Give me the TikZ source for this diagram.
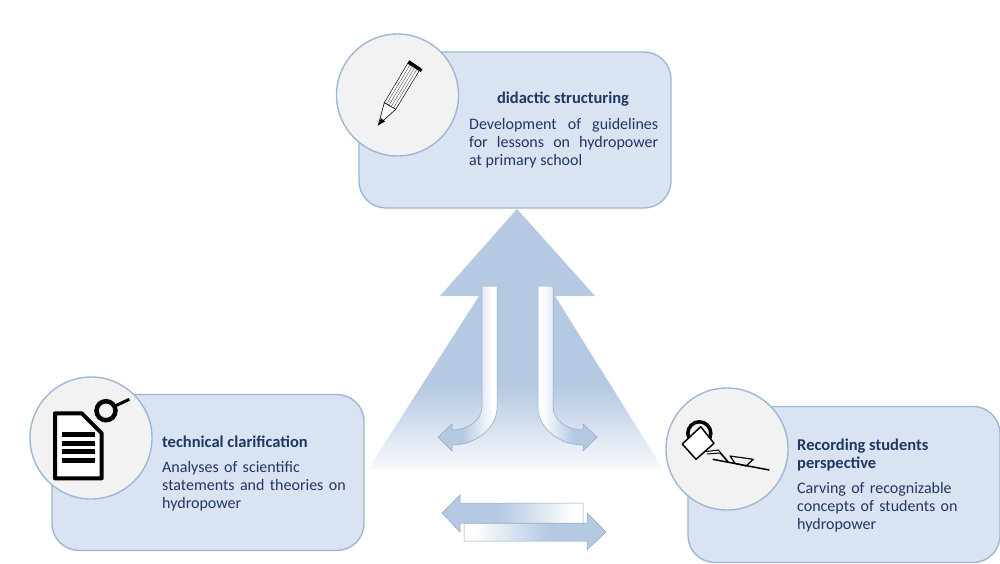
\documentclass[tikz,border=0pt]{standalone}
\usepackage{fontspec}
\setmainfont{Carlito}
\usetikzlibrary{positioning,calc}

\definecolor{boxfill}{HTML}{DAE3F1}
\definecolor{boxline}{HTML}{9DB7D6}
\definecolor{iconfill}{HTML}{F2F2F2}
\definecolor{flowblue}{HTML}{B5C9E2}
\definecolor{flowline}{HTML}{8FA5C4}
\definecolor{inktext}{HTML}{1F3864}

\pgfdeclareverticalshading{pyramidfade}{100bp}{color(0bp)=(white); color(25bp)=(white!90!flowblue); color(41bp)=(flowblue); color(100bp)=(flowblue)}
\pgfdeclarehorizontalshading{flowfade}{100bp}{color(0bp)=(flowblue); color(45bp)=(flowblue); color(72bp)=(white); color(100bp)=(white)}

\tikzset{
  stagebox/.style={draw=boxline, line width=1.4pt, fill=boxfill, rounded corners=27pt, minimum width=312pt, minimum height=156pt},
  iconcircle/.style={circle, draw=boxline, line width=1.4pt, fill=iconfill, minimum size=122pt, inner sep=0pt},
  stagetitle/.style={text=inktext, font=\fontsize{16.5}{18}\selectfont\bfseries, inner sep=0pt},
  stagetext/.style={text=inktext, font=\fontsize{16}{18}\selectfont, inner sep=0pt, text width=195pt, align=left},
  flowarrow/.style={draw=flowline, line width=0.5pt, shading=flowfade}
}

\begin{document}
\begin{tikzpicture}[x=1pt, y=-1pt]

  \useasboundingbox (0,0) rectangle (1000,563);

  % stages
  \node (didbox) [stagebox] at (515,130) {};
  \node (techbox) [stagebox] at (208,472.5) {};
  \node (recbox) [stagebox] at (844,484.5) {};

  \node (didcircle) [iconcircle] at (397.5,95) {};
  \node (techcircle) [iconcircle] at (91,438) {};
  \node (reccircle) [iconcircle] at (727,449) {};

  \node (didtitle) [stagetitle] at (563,99) {didactic structuring};
  \node (didtext) [stagetext, text width=189pt, align=justify, anchor=north west] at (469,118.5) {Development of guidelines\linebreak for lessons on hydropower\linebreak at primary school};

  \node (techtitle) [stagetitle, anchor=west] at (162,442) {technical clarification};
  \node (techtext) [stagetext, anchor=north west] at (162,461.5) {Analyses of scientific\\statements and theories on\\hydropower};

  \node (rectitle) [stagetitle, anchor=north west, align=left] at (797,438.5) {Recording students\\perspective};
  \node (rectext) [stagetext, anchor=north west] at (797,482.5) {Carving of recognizable\\concepts of students on\\hydropower};

  % pyramid with arrow head
  \path [shading=pyramidfade] (517,209) -- (595,296) -- (555,296) -- (663,469) -- (368,469) -- (479,296) -- (440,296) -- cycle;

  % curved arrows
  \draw [flowarrow] (497,286) -- (482,286) -- (482,407) .. controls (482,420) and (468,430) .. (452,430) -- (452,424) -- (438,437) -- (452,451) -- (452,445) .. controls (476,445) and (497,428) .. (497,407) -- cycle;
  \draw [flowarrow, shading angle=180] (538,286) -- (553,286) -- (553,407) .. controls (553,420) and (567,430) .. (583,430) -- (583,424) -- (597,437) -- (583,451) -- (583,445) .. controls (559,445) and (538,428) .. (538,407) -- cycle;

  % straight arrows
  \draw [flowarrow, shading angle=180] (464,523) -- (587,523) -- (587,513) -- (606,532) -- (587,550) -- (587,541) -- (464,541) -- cycle;
  \draw [flowarrow] (583,503) -- (460,503) -- (460,495) -- (442,513) -- (460,532) -- (460,523) -- (583,523) -- cycle;

  % pencil
  \draw [line width=0.5pt, fill=white] (409.3,60.7) -- (420.7,68.3) -- (395.7,109.3) -- (384.3,102.7) -- cycle;
  \foreach \k in {0.2,0.4,0.6,0.8}
    \draw [line width=0.4pt, black!70] ($(409.3,60.7)!\k!(420.7,68.3)$) -- ($(384.3,102.7)!\k!(395.7,109.3)$);
  \draw [line width=0.6pt, fill=white] (384.3,102.7) -- (395.7,109.3) -- (378.3,125) -- cycle;
  \fill (381,118) -- (385,121.5) -- (378.3,125) -- cycle;
  \fill (409.3,60.7) -- (411.5,62) -- (422.5,69.5) -- (420.7,72) -- (407.5,63.5) -- cycle;

  % document and magnifier
  \draw [line width=4pt, fill=white, line join=round] (55,413.3) -- (81.7,413.3) -- (101.7,433.3) -- (101.7,478.3) -- (55,478.3) -- cycle;
  \foreach \y in {434.3,443.3,451.7,460.7}
    \draw [line width=5pt] (61.7,\y) -- (95,\y);
  \draw [line width=4.5pt] (106,410.7) circle (9.5pt);
  \draw [line width=3pt] (115,406) -- (129.3,399.3);

  % bucket
  \draw [line width=3.5pt] (699.3,433.3) circle (11.5pt);
  \draw [line width=1.5pt, fill=white, line join=round] (682.3,444) -- (700.7,426.7) -- (714,443.3) -- (696,459.3) -- cycle;
  \draw [line width=1pt] (705,451.7) -- (718.3,450) -- (728.3,461.7);
  \draw [line width=1pt] (707,454) -- (720,453) -- (727,461);
  \draw [line width=1.5pt] (712.7,459.3) -- (769.3,470);
  \draw [line width=1.2pt, line join=round] (730,456) -- (753.3,459.3) -- (746,466) -- (735,463.3) -- cycle;

\end{tikzpicture}
\end{document}
